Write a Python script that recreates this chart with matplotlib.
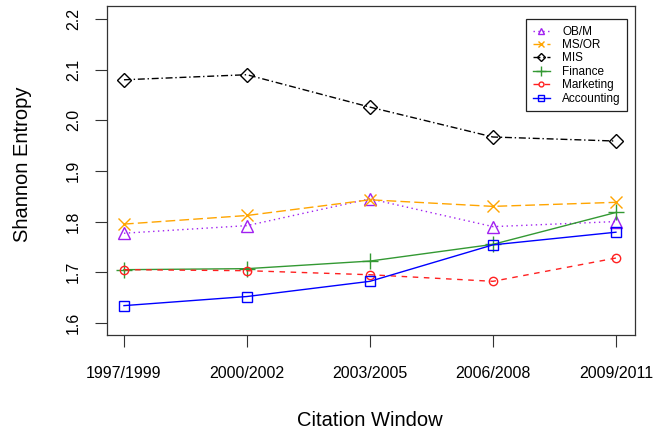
import matplotlib
matplotlib.use('Agg')
import matplotlib.pyplot as plt
from matplotlib.lines import Line2D

plt.rcParams['font.family'] = ['Liberation Sans', 'DejaVu Sans']

windows = ['1997/1999', '2000/2002', '2003/2005', '2006/2008', '2009/2011']
obm = [1.777, 1.792, 1.845, 1.790, 1.800]
msor = [1.795, 1.812, 1.843, 1.830, 1.838]
mis = [2.080, 2.090, 2.026, 1.967, 1.959]
finance = [1.705, 1.707, 1.722, 1.755, 1.818]
marketing = [1.705, 1.703, 1.695, 1.682, 1.728]
accounting = [1.634, 1.652, 1.682, 1.754, 1.779]

# name, values, colour, line style, marker, marker size, legend marker size
series = [
    ('OB/M', obm, '#A020F0', (0, (1, 2.5)), '^', 8, 5),
    ('MS/OR', msor, '#FFA500', (0, (7, 3)), 'x', 8, 5),
    ('MIS', mis, 'black', (0, (5, 2, 1, 2)), 'D', 7, 4),
    ('Finance', finance, '#339933', '-', '+', 11, 7),
    ('Marketing', marketing, '#FF2020', (0, (4, 4)), 'o', 6, 3.5),
    ('Accounting', accounting, '#0000FF', '-', 's', 7, 4.5),
]

fig = plt.figure(figsize=(6.53, 4.32), dpi=100)
ax = fig.add_axes([107 / 653, 1 - 335 / 432, 528 / 653, 329 / 432])

x = list(range(1, len(windows) + 1))
handles = []
for name, vals, col, ls, mk, ms, lms in series:
    ax.plot(x, vals, color=col, linestyle=ls, linewidth=1.0, marker=mk,
            markersize=ms, markerfacecolor='none', markeredgecolor=col,
            markeredgewidth=1.0)
    handles.append(Line2D([0], [0], color=col, linestyle=ls, linewidth=1.0,
                          marker=mk, markersize=lms, markerfacecolor='none',
                          markeredgecolor=col, markeredgewidth=1.0))

ax.set_xlim(0.862, 5.155)
ax.set_ylim(1.576, 2.2257)
ax.set_xticks(x)
ax.set_xticklabels(windows)
ax.set_yticks([1.6, 1.7, 1.8, 1.9, 2.0, 2.1, 2.2])
ax.set_yticklabels(['1.6', '1.7', '1.8', '1.9', '2.0', '2.1', '2.2'])

ax.tick_params(axis='both', direction='out', length=8.6, width=0.8,
               labelsize=11.5, color='#333333')
ax.tick_params(axis='x', pad=14)
ax.tick_params(axis='y', pad=10, labelrotation=90)
for lab in ax.get_yticklabels():
    lab.set_va('center')

for sp in ax.spines.values():
    sp.set_linewidth(0.9)
    sp.set_color('#333333')

fig.text(370 / 653, 1 - 420 / 432, 'Citation Window', ha='center', va='center',
         fontsize=14.5)
fig.text(23 / 653, 1 - 164 / 432, 'Shannon Entropy', ha='center', va='center',
         rotation=90, fontsize=14.5)

leg = ax.legend(handles, [s[0] for s in series], loc='upper right',
                bbox_to_anchor=(0.985, 0.96), borderaxespad=0, fontsize=8.5,
                handlelength=1.5, handletextpad=1.0, labelspacing=0.12,
                borderpad=0.55, fancybox=False, framealpha=1)
leg.get_frame().set_edgecolor('#222222')
leg.get_frame().set_linewidth(0.9)

fig.savefig('out.png', dpi=100)
